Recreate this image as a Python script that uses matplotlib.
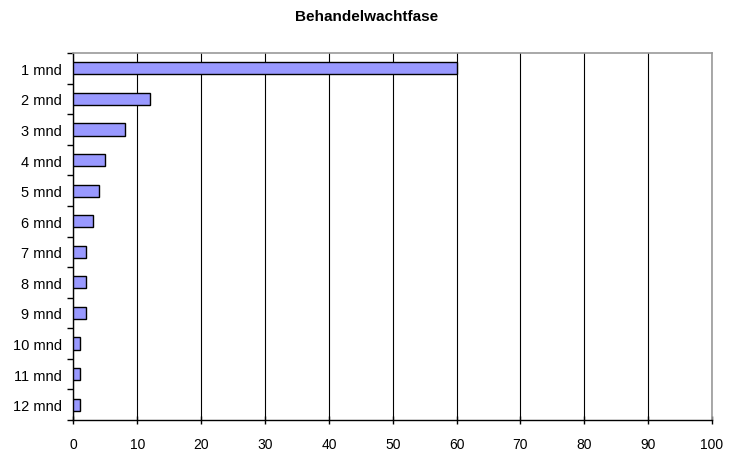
import matplotlib
matplotlib.use("Agg")
import matplotlib.pyplot as plt
import numpy as np

plt.rcParams['font.family'] = ['Liberation Sans', 'DejaVu Sans']

categories = ["1 mnd", "2 mnd", "3 mnd", "4 mnd", "5 mnd", "6 mnd",
              "7 mnd", "8 mnd", "9 mnd", "10 mnd", "11 mnd", "12 mnd"]
values = [60, 12, 8, 5, 4, 3, 2, 2, 2, 1, 1, 1]
xticks = [0, 10, 20, 30, 40, 50, 60, 70, 80, 90, 100]
title = "Behandelwachtfase"

fig = plt.figure(figsize=(7.29, 4.52), dpi=100)
ax = fig.add_axes([0.1008, 0.0686, 0.8759, 0.8119])

y = np.arange(len(categories))
ax.barh(y, values, height=0.4, color="#9999FF", edgecolor="black", linewidth=1.0, zorder=3)
ax.set_ylim(len(categories) - 0.5, -0.5)
ax.set_xlim(0, 100)
ax.set_xticks(xticks)
ax.set_xticklabels([str(t) for t in xticks], fontsize=10)
ax.set_yticks(y)
ax.set_yticklabels(categories, fontsize=10.5)
ax.tick_params(axis='y', length=0, pad=8)
ax.set_yticks(np.arange(len(categories) + 1) - 0.5, minor=True)
ax.tick_params(axis='y', which='minor', length=4, direction='out', width=1)
ax.tick_params(axis='x', length=6, direction='inout', width=1, pad=9)

ax.xaxis.grid(True, color="black", linewidth=0.8, zorder=0)
ax.set_axisbelow(True)
for s in ['top', 'right']:
    ax.spines[s].set_color('#999999')
    ax.spines[s].set_linewidth(1.2)
for s in ['left', 'bottom']:
    ax.spines[s].set_color('black')
    ax.spines[s].set_linewidth(1.0)

fig.text(0.503, 0.962, title, ha='center', va='center', fontsize=11, fontweight='bold')

fig.savefig("out.png", dpi=100)
